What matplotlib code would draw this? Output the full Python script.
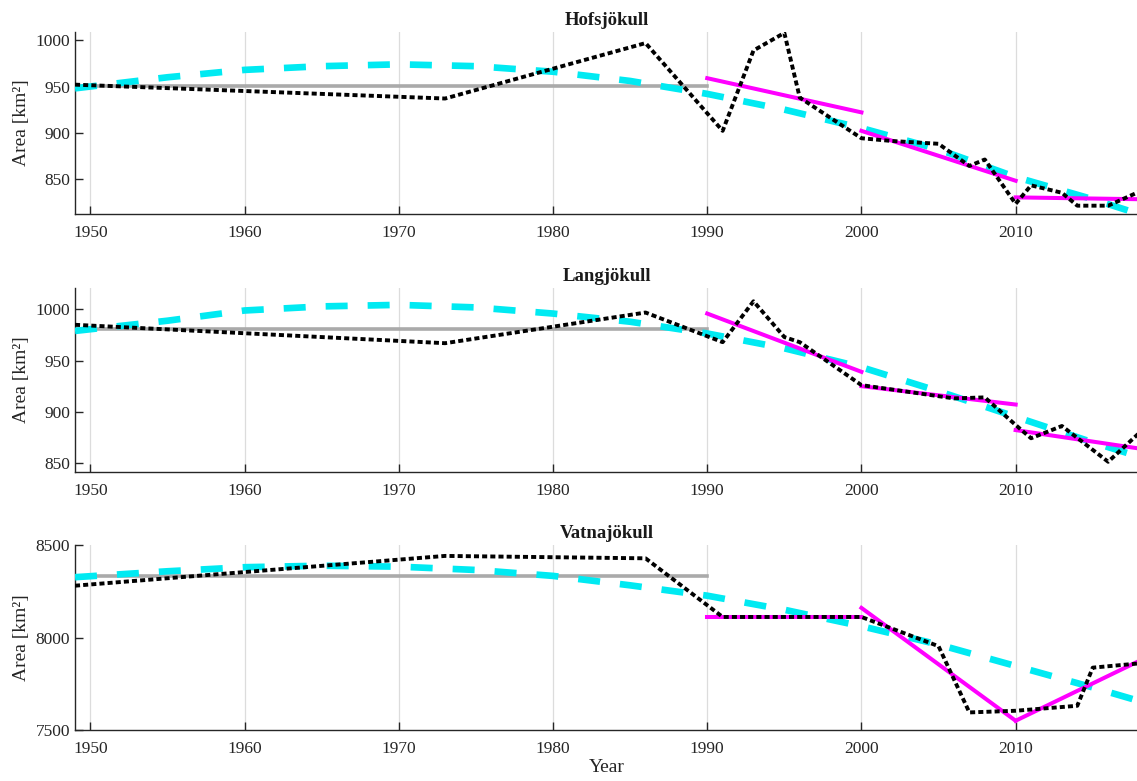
import matplotlib
matplotlib.use("Agg")
import matplotlib.pyplot as plt

plt.rcParams['font.family'] = ['Liberation Serif', 'DejaVu Serif']

titles = ["Hofsjökull", "Langjökull", "Vatnajökull"]

# Observations (black dotted)
hofs_obs_years = [1949, 1973, 1986, 1991, 1993, 1995, 1996, 2000, 2002, 2005, 2007, 2008, 2010, 2011, 2013, 2014, 2016, 2018]
hofs_obs_area = [952, 937, 997, 902, 989, 1008, 938, 894, 891, 888, 864, 871, 823, 843, 835, 821, 821, 836]
lang_obs_years = [1949, 1973, 1986, 1991, 1993, 1995, 1996, 2000, 2006, 2008, 2010, 2011, 2013, 2016, 2018]
lang_obs_area = [985, 967, 997, 968, 1008, 973, 968, 926, 913, 914, 887, 874, 886, 851, 879]
vatna_obs_years = [1949, 1973, 1986, 1991, 2000, 2005, 2007, 2010, 2014, 2015, 2018]
vatna_obs_area = [8280, 8441, 8428, 8111, 8111, 7953, 7595, 7604, 7631, 7837, 7860]

# Smooth fit (cyan dashed)
fit_years = [1949, 1955, 1960, 1965, 1970, 1975, 1980, 1985, 1990, 1995, 2000, 2005, 2010, 2015, 2018]
hofs_fit = [948, 960, 968, 972, 974, 972, 966, 956, 942, 925, 905, 882, 852, 828, 812]
lang_fit = [979, 989, 999, 1003, 1004.5, 1002, 996, 988, 976.5, 962, 943.5, 920, 895, 870, 856]
vatna_fit = [8326, 8358, 8380, 8388, 8383, 8365, 8333, 8282, 8226, 8150, 8061, 7962, 7846, 7730, 7657]

# Period mean before 1990 (gray)
mean_years = [1949, 1990]
hofs_mean = 951
lang_mean = 980.5
vatna_mean = 8333

# Decadal linear trends (magenta)
seg_years = [[1990, 2000], [2000, 2010], [2010, 2018]]
hofs_seg = [[959, 922], [902, 848], [830, 828]]
lang_seg = [[996, 939], [925, 907], [882, 864]]
vatna_seg = [[8109, 8109], [8160, 7550], [7550, 7873]]

obs = [(hofs_obs_years, hofs_obs_area), (lang_obs_years, lang_obs_area), (vatna_obs_years, vatna_obs_area)]
fits = [hofs_fit, lang_fit, vatna_fit]
means = [hofs_mean, lang_mean, vatna_mean]
segs = [hofs_seg, lang_seg, vatna_seg]
ylims = [(812, 1009), (841, 1021), (7500, 8500)]
yticks = [[850, 900, 950, 1000], [850, 900, 950, 1000], [7500, 8000, 8500]]
xticks = [1950, 1960, 1970, 1980, 1990, 2000, 2010]

W, H = 1137, 781
fig = plt.figure(figsize=(W / 100, H / 100), dpi=100)
boxes = [(32, 214), (288, 472), (545, 730)]
left_px, right_px = 75, 1139

for i in range(3):
    top, bot = boxes[i]
    ax = fig.add_axes([left_px / W, 1 - bot / H, (right_px - left_px) / W, (bot - top) / H])
    ax.set_xlim(1949, 2018)
    ax.set_ylim(*ylims[i])
    for xt in xticks:
        ax.axvline(xt, color='#dcdcdc', lw=0.9, zorder=0)
    ax.plot(mean_years, [means[i], means[i]], color='#aaaaaa', lw=2.6, zorder=2)
    ax.plot(fit_years, fits[i], color='#00eaf2', lw=4.8, dashes=(3.3, 3.0), zorder=3)
    for sy, sv in zip(seg_years, segs[i]):
        ax.plot(sy, sv, color='#ff00ff', lw=2.9, zorder=4)
    ax.plot(obs[i][0], obs[i][1], color='black', lw=2.8, dashes=(1.3, 0.8), zorder=5)
    ax.set_xticks(xticks)
    ax.set_yticks(yticks[i])
    ax.tick_params(direction='in', length=6, width=1, colors='#262626', labelsize=12.5)
    ax.tick_params(axis='x', pad=8)
    for s in ['top', 'right']:
        ax.spines[s].set_visible(False)
    for s in ['left', 'bottom']:
        ax.spines[s].set_color('#262626')
        ax.spines[s].set_linewidth(1.0)
    ax.set_title(titles[i], fontsize=13.5, fontweight='bold', pad=5, color='#1a1a1a')
    ax.set_ylabel('Area [km²]', fontsize=14, color='#262626', labelpad=4)
    if i == 2:
        ax.set_xlabel('Year', fontsize=14, color='#262626', labelpad=1)

fig.savefig('out.png', dpi=100)
